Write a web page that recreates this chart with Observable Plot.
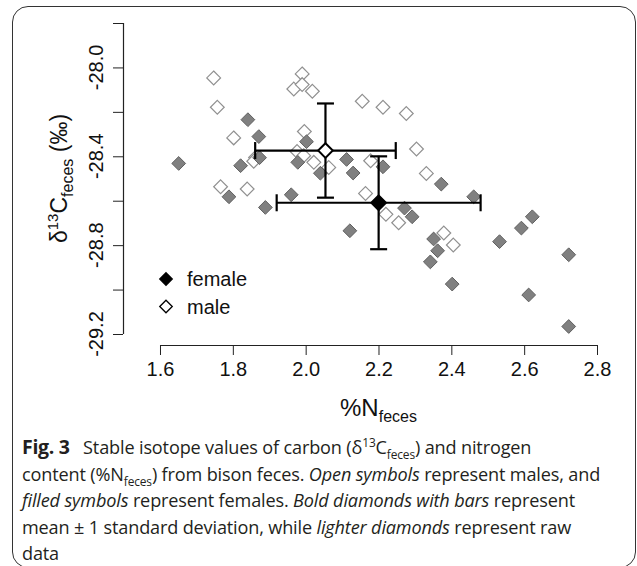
<!DOCTYPE html>
<html><head><meta charset="utf-8">
<script src="https://cdn.jsdelivr.net/npm/d3@7"></script>
<script src="https://cdn.jsdelivr.net/npm/@observablehq/plot@0.6"></script>
<style>
body{margin:0;background:#fff;}
#frame{position:absolute;left:12px;top:6px;width:624px;height:562px;border:1.3px solid #333;border-radius:16px;box-sizing:border-box;}
#chart{position:absolute;left:0;top:0;}
#caption{position:absolute;left:22px;top:434px;width:610px;font-family:"Open Sans",sans-serif;font-size:18.1px;line-height:26.5px;color:#231f20;letter-spacing:-0.15px;white-space:nowrap;}
#caption sub,#caption sup{font-size:0.66em;line-height:0;}
#caption b{font-weight:700;font-size:19.5px;letter-spacing:-0.3px;}
</style>
</head><body>
<div id="frame"></div>
<div id="chart"></div>
<div id="caption"><b>Fig. 3</b>&ensp; Stable isotope values of carbon (δ<sup>13</sup>C<sub>feces</sub>) and nitrogen<br>content (%N<sub>feces</sub>) from bison feces. <i>Open symbols</i> represent males, and<br><i>filled symbols</i> represent females. <i>Bold diamonds with bars</i> represent<br>mean ± 1 standard deviation, while <i>lighter diamonds</i> represent raw<br>data</div>
<script>
const xTicks = [1.6, 1.8, 2.0, 2.2, 2.4, 2.6, 2.8];
const yTicks = [-27.8, -28.0, -28.2, -28.4, -28.6, -28.8, -29.0, -29.2];
const yTickLabels = ["", "-28.0", "", "-28.4", "", "-28.8", "", "-29.2"];

const maleN = [1.746, 1.989, 1.966, 1.989, 2.017, 1.756, 2.154, 2.211, 2.275, 1.801, 1.995, 2.303, 1.975, 1.861, 1.856, 1.993, 2.021, 2.062, 2.177, 2.330, 1.765, 1.838, 2.163, 2.219, 2.254, 2.378, 2.404];
const maleC = [-28.045, -28.027, -28.095, -28.075, -28.105, -28.177, -28.150, -28.177, -28.205, -28.315, -28.286, -28.365, -28.376, -28.403, -28.420, -28.395, -28.425, -28.448, -28.418, -28.475, -28.535, -28.545, -28.565, -28.659, -28.697, -28.743, -28.797];

const femaleN = [1.840, 1.870, 2.001, 1.650, 1.820, 1.872, 1.977, 2.039, 2.111, 2.129, 2.211, 1.788, 1.888, 1.959, 2.120, 2.371, 2.460, 2.270, 2.291, 2.621, 2.591, 2.531, 2.350, 2.361, 2.341, 2.401, 2.721, 2.611, 2.721];
const femaleC = [-28.233, -28.309, -28.332, -28.430, -28.440, -28.404, -28.425, -28.474, -28.412, -28.473, -28.445, -28.580, -28.628, -28.571, -28.733, -28.523, -28.580, -28.631, -28.670, -28.670, -28.721, -28.782, -28.770, -28.823, -28.873, -28.973, -28.841, -29.022, -29.164];

const groups = ["female", "male"];
const meanN = [2.199, 2.053];
const meanC = [-28.607, -28.372];
const sdN = [0.280, 0.193];
const sdC = [0.209, 0.212];

const males = maleN.map((n, i) => ({n, c: maleC[i]}));
const females = femaleN.map((n, i) => ({n, c: femaleC[i]}));
const means = groups.map((g, i) => ({g, n: meanN[i], c: meanC[i], sn: sdN[i], sc: sdC[i]}));

const xMin = 1.4984, yMin = -29.2495;
const CAP = 8.5;
const hcap = {draw(ctx) { ctx.moveTo(-CAP, 0); ctx.lineTo(CAP, 0); }};
const vcap = {draw(ctx) { ctx.moveTo(0, -CAP); ctx.lineTo(0, CAP); }};

const font = "Liberation Sans, Arial, sans-serif";

const plot = Plot.plot({
  width: 637,
  height: 430,
  marginLeft: 123,
  marginRight: 40,
  marginTop: 23,
  marginBottom: 85,
  x: {domain: [xMin, xTicks[xTicks.length - 1]]},
  y: {domain: [yMin, yTicks[0]]},
  style: {fontFamily: font, fontSize: "20px", color: "#111", background: "transparent", overflow: "visible"},
  marks: [
    Plot.ruleY([yMin], {x1: xTicks[0], x2: xTicks[xTicks.length - 1], stroke: "#222", strokeWidth: 1.2}),
    Plot.ruleX([xMin], {y1: yTicks[0], y2: yTicks[yTicks.length - 1], stroke: "#222", strokeWidth: 1.2}),
    Plot.axisX({ticks: xTicks, tickSize: 10, tickPadding: 6, tickFormat: d3.format(".1f"), label: null, fontSize: 20, stroke: "#222"}),
    Plot.axisY({ticks: yTicks, tickSize: 10, tickFormat: () => "", label: null, stroke: "#222"}),
    Plot.dot(males, {x: "n", y: "c", symbol: "diamond2", r: 6.2, fill: "white", stroke: "#909090", strokeWidth: 1.2}),
    Plot.dot(females, {x: "n", y: "c", symbol: "diamond2", r: 6.2, fill: "#808080", stroke: "#606060", strokeWidth: 1}),
    Plot.ruleX(means, {x: "n", y1: d => d.c - d.sc, y2: d => d.c + d.sc, stroke: "black", strokeWidth: 2.2}),
    Plot.ruleY(means, {y: "c", x1: d => d.n - d.sn, x2: d => d.n + d.sn, stroke: "black", strokeWidth: 2.2}),
    Plot.dot(means, {x: "n", y: d => d.c - d.sc, symbol: hcap, r: 1, fill: "none", stroke: "black", strokeWidth: 2.2}),
    Plot.dot(means, {x: "n", y: d => d.c + d.sc, symbol: hcap, r: 1, fill: "none", stroke: "black", strokeWidth: 2.2}),
    Plot.dot(means, {x: d => d.n - d.sn, y: "c", symbol: vcap, r: 1, fill: "none", stroke: "black", strokeWidth: 2.2}),
    Plot.dot(means, {x: d => d.n + d.sn, y: "c", symbol: vcap, r: 1, fill: "none", stroke: "black", strokeWidth: 2.2}),
    Plot.dot(means, {x: "n", y: "c", symbol: "diamond2", r: 6.6, fill: d => d.g === "female" ? "black" : "white", stroke: "black", strokeWidth: 2})
  ]
});
document.getElementById("chart").appendChild(plot);

const svg = d3.select(plot);
const ys = plot.scale("y"), xs = plot.scale("x");

// y tick labels (rotated, as in R)
yTicks.forEach((t, i) => {
  if (!yTickLabels[i]) return;
  svg.append("text")
    .attr("transform", `translate(103,${ys.apply(t)}) rotate(-90)`)
    .attr("text-anchor", "middle")
    .attr("font-family", font).attr("font-size", 20).attr("fill", "#111")
    .text(yTickLabels[i]);
});

// y axis title
const yMid = (ys.apply(yTicks[0]) + ys.apply(yTicks[yTicks.length - 1])) / 2;
const yt = svg.append("text")
  .attr("transform", `translate(67,${yMid}) rotate(-90)`)
  .attr("text-anchor", "middle")
  .attr("font-family", font).attr("font-size", 23).attr("fill", "#111");
yt.append("tspan").text("δ");
yt.append("tspan").attr("dy", -9).attr("font-size", 15).text("13");
yt.append("tspan").attr("dy", 9).text("C");
yt.append("tspan").attr("dy", 6).attr("font-size", 16).text("feces");
yt.append("tspan").attr("dy", -6).text(" (‰)");

// x axis title
const xMid = (xs.apply(xTicks[0]) + xs.apply(xTicks[xTicks.length - 1])) / 2;
const xt = svg.append("text")
  .attr("x", xMid).attr("y", 416)
  .attr("text-anchor", "middle")
  .attr("font-family", font).attr("font-size", 24).attr("fill", "#111");
xt.append("tspan").text("%N");
xt.append("tspan").attr("dy", 6).attr("font-size", 16).text("feces");

// legend
const legendItems = [
  {label: groups[0], fill: "black"},
  {label: groups[1], fill: "white"}
];
const sym = d3.symbol(d3.symbolDiamond2, 100)();
legendItems.forEach((d, i) => {
  const cy = 279 + i * 27.5;
  svg.append("path").attr("d", sym).attr("transform", `translate(166,${cy})`)
    .attr("fill", d.fill).attr("stroke", "black").attr("stroke-width", 1.3);
  svg.append("text").attr("x", 187).attr("y", cy + 7)
    .attr("text-anchor", "start")
    .attr("font-family", font).attr("font-size", 20).attr("fill", "#111").text(d.label);
});
</script>
</body></html>
